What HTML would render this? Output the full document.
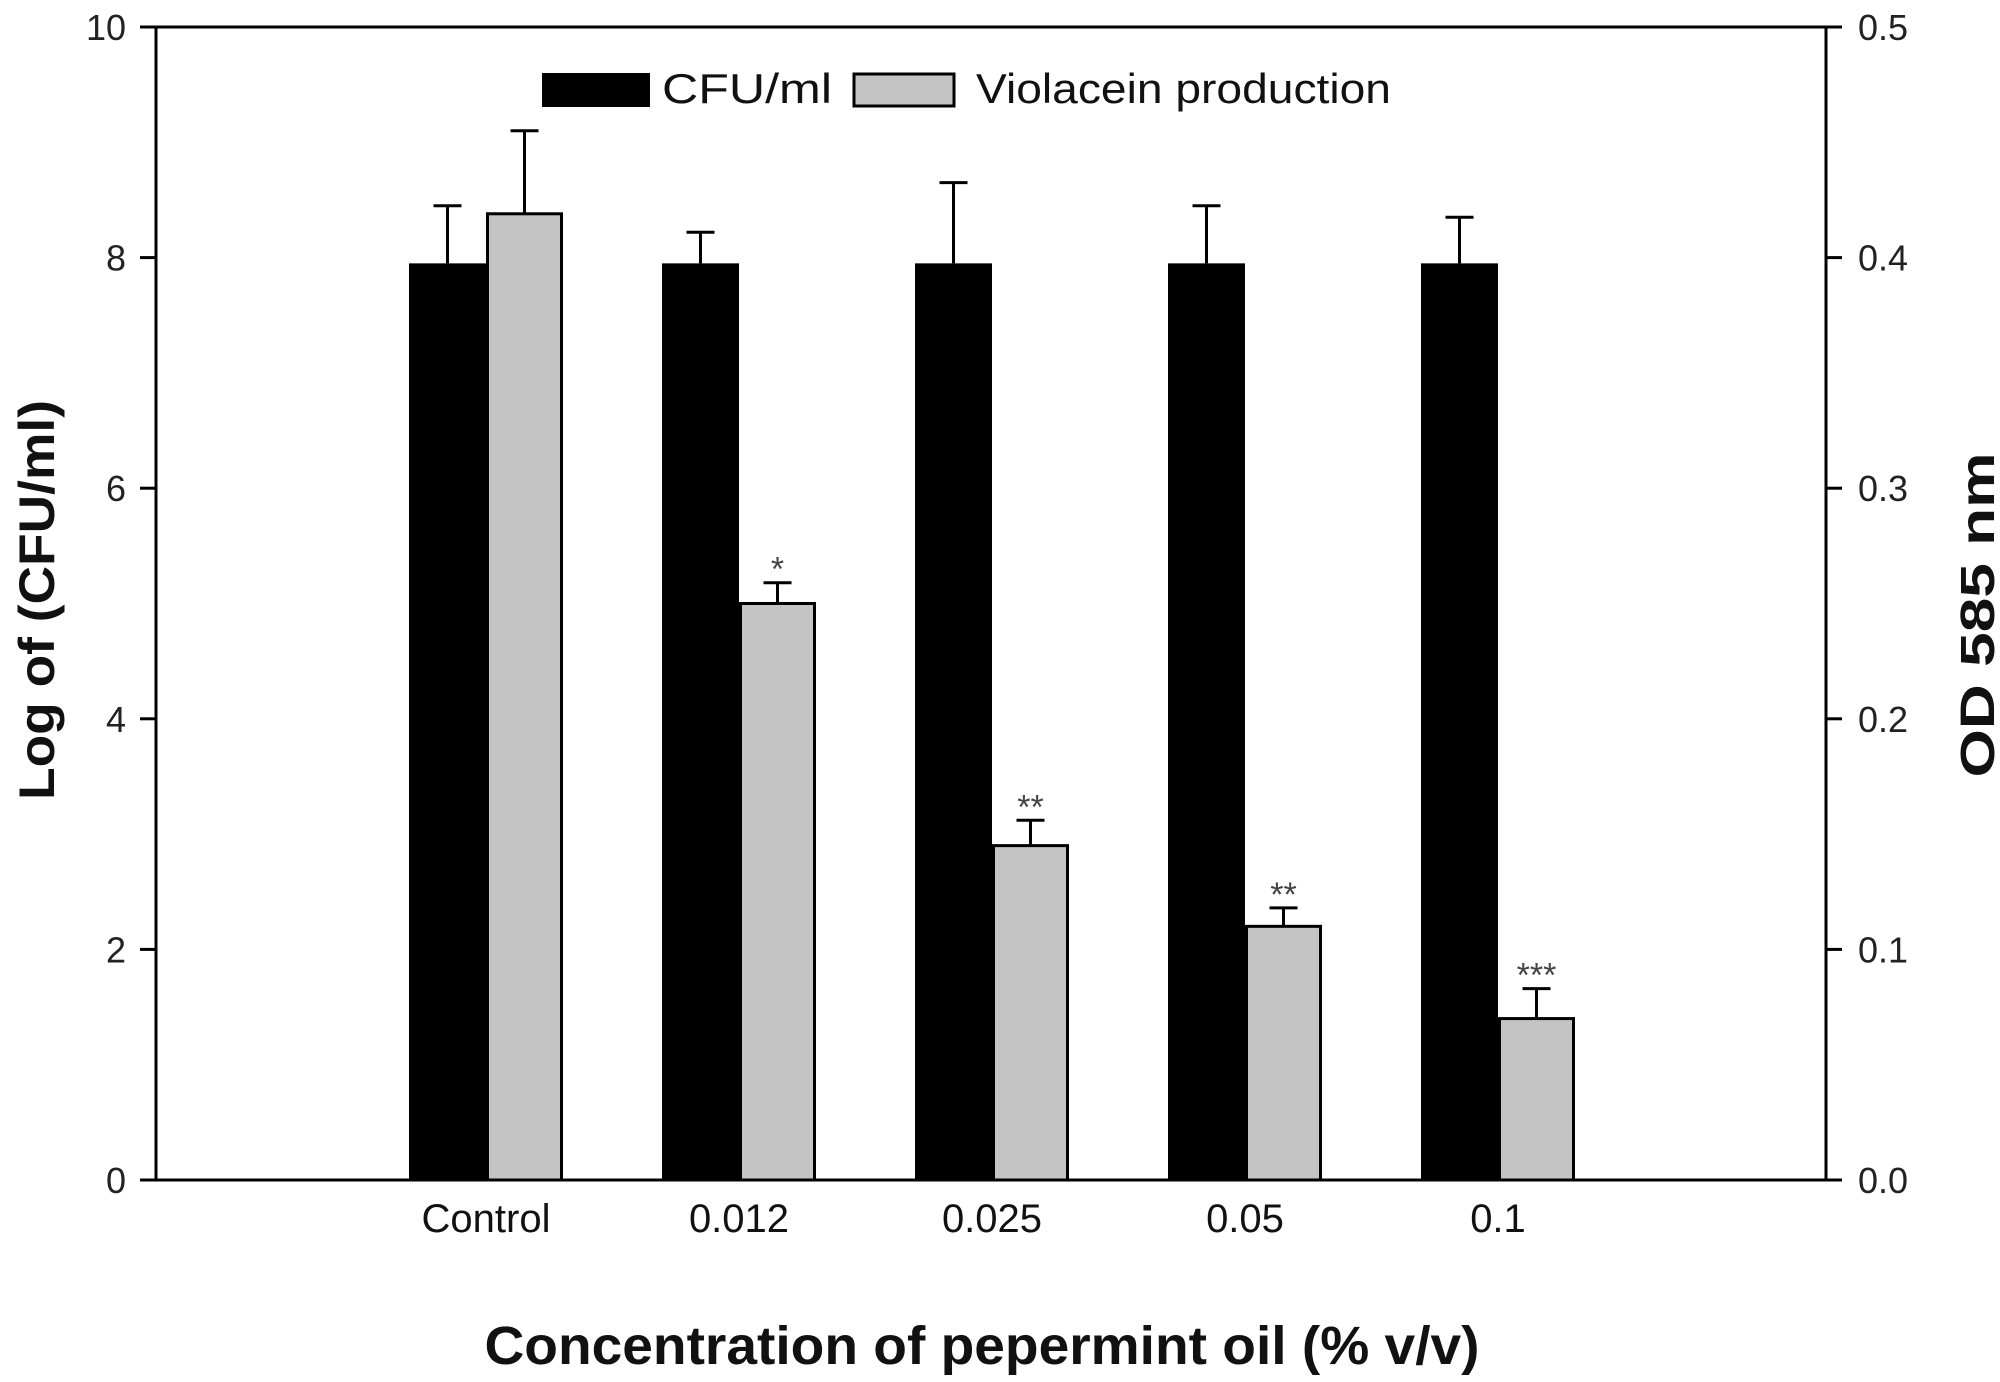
<!DOCTYPE html>
<html><head><meta charset="utf-8"><style>
html,body{margin:0;padding:0;background:#fff;}
svg{display:block;font-family:"Liberation Sans",Arial,sans-serif;}
</style></head><body>
<svg id="chart" width="2000" height="1382" viewBox="0 0 2000 1382" xmlns="http://www.w3.org/2000/svg"></svg>
<script>
const categories = ["Control","0.012","0.025","0.05","0.1"];
const cfuValues = [7.95,7.95,7.95,7.95,7.95];
const cfuErrors = [8.45,8.22,8.65,8.45,8.35];
const odValues = [0.419,0.25,0.145,0.11,0.07];
const odErrors = [0.455,0.259,0.156,0.118,0.083];
const sigLabels = ["","*","**","**","***"];
const leftTicks = [0,2,4,6,8,10];
const rightTicks = ["0.0","0.1","0.2","0.3","0.4","0.5"];

const svg = document.getElementById('chart');
const NS = 'http://www.w3.org/2000/svg';
const L=156, R=1826, T=27, B=1180;
const yL = v => B - v/10*(B-T);
const yR = v => B - v/0.5*(B-T);
const xC = i => 486 + i*253;
const BW = 77;
function mk(tag, attrs, text){
  const e=document.createElementNS(NS,tag);
  for(const k in attrs) e.setAttribute(k,attrs[k]);
  if(text!==undefined) e.textContent=text;
  svg.appendChild(e); return e;
}
let e;
e=mk('rect',{x:L,y:T,width:R-L,height:B-T,fill:'none',stroke:'#000','stroke-width':3});


leftTicks.forEach(v=>{
  e=mk('line',{x1:L-16,x2:L,y1:yL(v),y2:yL(v),stroke:'#000','stroke-width':3});
  
  
  e=mk('text',{x:L-30,y:yL(v)+13,'text-anchor':'end','font-size':36,fill:'#222'},String(v));
  
  
});
rightTicks.forEach(s=>{
  const y=yR(parseFloat(s));
  e=mk('line',{x1:R,x2:R+16,y1:y,y2:y,stroke:'#000','stroke-width':3});
  
  
  e=mk('text',{x:R+32,y:y+13,'text-anchor':'start','font-size':36,fill:'#222'},s);
  
  
});
categories.forEach((c,i)=>{
  const cx=xC(i);
  const yb=yL(cfuValues[i]);
  const ex=cx-BW/2;
  e=mk('line',{x1:ex,x2:ex,y1:yL(cfuErrors[i]),y2:yb,stroke:'#000','stroke-width':3});
  
  
  e=mk('line',{x1:ex-14,x2:ex+14,y1:yL(cfuErrors[i]),y2:yL(cfuErrors[i]),stroke:'#000','stroke-width':3});
  
  
  e=mk('rect',{x:cx-BW,y:yb,width:BW,height:B-yb,fill:'#000'});
  
  
  const yg=yR(odValues[i]);
  const gx=cx+BW/2;
  e=mk('line',{x1:gx,x2:gx,y1:yR(odErrors[i]),y2:yg,stroke:'#000','stroke-width':3});
  
  
  e=mk('line',{x1:gx-14,x2:gx+14,y1:yR(odErrors[i]),y2:yR(odErrors[i]),stroke:'#000','stroke-width':3});
  
  
  e=mk('rect',{x:cx+1.5,y:yg,width:BW-3,height:B-yg,fill:'#c4c4c4',stroke:'#000','stroke-width':3});
  
  
  if(sigLabels[i]){
    e=mk('text',{x:gx,y:yR(odErrors[i])-2,'text-anchor':'middle','font-size':34,fill:'#444'},sigLabels[i]);
    
    
  }
  e=mk('text',{x:cx,y:1232,'text-anchor':'middle','font-size':40,fill:'#111'},c);
  
  
});
e=mk('rect',{x:542,y:73,width:108,height:34,fill:'#000'});


e=mk('text',{x:662,y:103,'font-size':42,fill:'#111',textLength:170,lengthAdjust:'spacingAndGlyphs'},'CFU/ml');


e=mk('rect',{x:854,y:74,width:100,height:32,fill:'#c4c4c4',stroke:'#000','stroke-width':3});


e=mk('text',{x:976,y:103,'font-size':42,fill:'#111',textLength:415,lengthAdjust:'spacingAndGlyphs'},'Violacein production');


e=mk('text',{x:0,y:0,transform:'translate(54,600) rotate(-90)','text-anchor':'middle','font-size':50,'font-weight':'bold',fill:'#111',textLength:400,lengthAdjust:'spacingAndGlyphs'},'Log of (CFU/ml)');


e=mk('text',{x:0,y:0,transform:'translate(1994,615) rotate(-90)','text-anchor':'middle','font-size':48,'font-weight':'bold',fill:'#111',textLength:325,lengthAdjust:'spacingAndGlyphs'},'OD 585 nm');


e=mk('text',{x:982,y:1364,'text-anchor':'middle','font-size':54,'font-weight':'bold',fill:'#111',textLength:995,lengthAdjust:'spacingAndGlyphs'},'Concentration of pepermint oil (% v/v)');


</script>
</body></html>
